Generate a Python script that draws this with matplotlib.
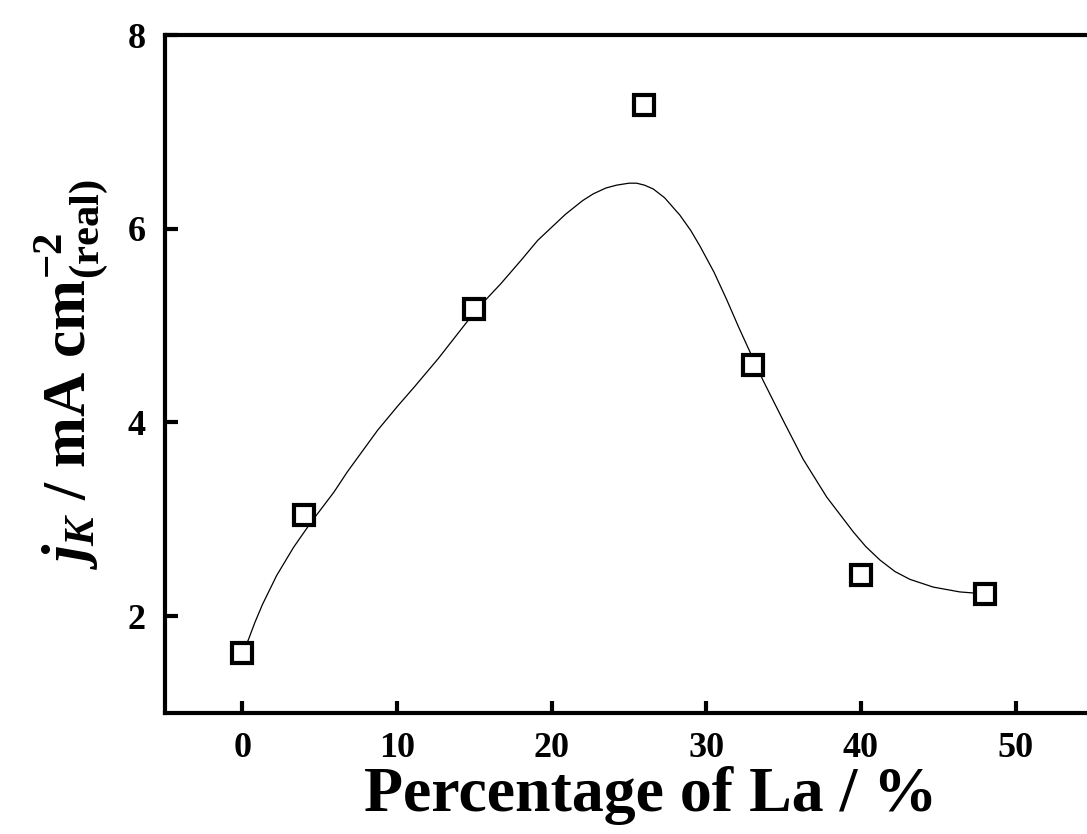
import numpy as np
import matplotlib
matplotlib.use("Agg")
from matplotlib import pyplot as plt

# measured points
la_pct = [0, 4, 15, 26, 33, 40, 48]
jk = [1.62, 3.04, 5.17, 7.28, 4.59, 2.42, 2.23]

# guide curve
curve_x = [0.0, 0.40, 0.80, 1.30, 2.22, 3.31, 4.40, 5.92, 6.79, 8.75, 10.05, 11.14, 12.67,
           14.19, 15.17, 16.70, 18.0, 19.10, 20.90, 22.0, 22.69, 23.5, 24.20, 25.0,
           25.49, 26.0, 26.57, 27.3, 28.29, 29.0, 29.59, 30.5, 31.31, 32.10, 32.93,
           33.68, 34.97, 36.26, 37.78, 39.50, 40.30, 41.22, 42.2, 43.16, 44.67,
           46.39, 48.0]
curve_y = [1.62, 1.76, 1.93, 2.12, 2.42, 2.71, 2.96, 3.28, 3.49, 3.92, 4.17, 4.37, 4.66,
           4.97, 5.17, 5.43, 5.67, 5.88, 6.15, 6.29, 6.36, 6.42, 6.45, 6.47,
           6.47, 6.45, 6.41, 6.32, 6.14, 5.98, 5.82, 5.55, 5.27, 4.98, 4.69,
           4.43, 4.02, 3.62, 3.23, 2.87, 2.72, 2.58, 2.46, 2.38, 2.30,
           2.25, 2.23]

plt.rcParams['font.family'] = 'Liberation Serif'
plt.rcParams['font.weight'] = 'bold'
plt.rcParams['axes.labelweight'] = 'bold'
plt.rcParams['mathtext.fontset'] = 'custom'
plt.rcParams['mathtext.rm'] = 'Liberation Serif:bold'
plt.rcParams['mathtext.bf'] = 'Liberation Serif:bold'
plt.rcParams['mathtext.it'] = 'Liberation Serif:bold:italic'

fig = plt.figure(figsize=(10.87, 8.34), dpi=100)
ax = fig.add_axes([165/1087, 121/834, 928/1087, 678/834])

ax.plot(curve_x, curve_y, color='black', lw=0.9)
ax.plot(la_pct, jk, ls='none', marker='s', ms=14, mew=3,
        mfc='white', mec='black')

ax.set_xlim(-5, 55)
ax.set_ylim(1, 8)
ax.set_xticks([0, 10, 20, 30, 40, 50])
ax.set_yticks([2, 4, 6, 8])
ax.tick_params(direction='in', length=9, width=3, labelsize=26, pad=14)
for s in ax.spines.values():
    s.set_linewidth(3)

ax.set_xlabel('Percentage of La / %', fontsize=46)
ax.xaxis.set_label_coords(0.523, -0.078)
ax.set_ylabel(r'$j_K$ / mA cm$^{-2}_{\mathrm{(real)}}$', fontsize=44, labelpad=12)

fig.savefig('out.png', dpi=100)
